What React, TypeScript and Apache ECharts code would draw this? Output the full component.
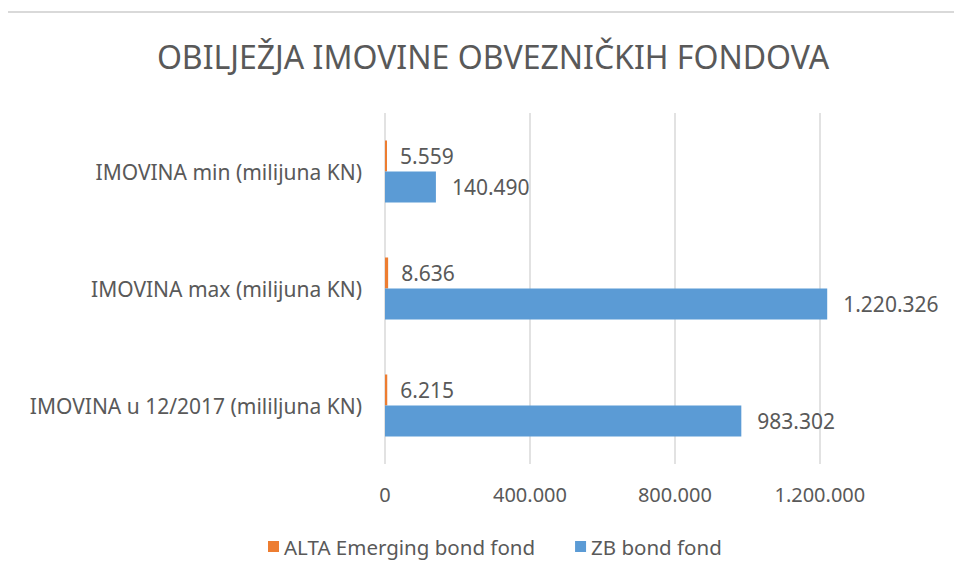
import React, { useEffect, useRef } from "react";
import * as echarts from "echarts";

const categories = [
  "IMOVINA min (milijuna KN)",
  "IMOVINA max (milijuna KN)",
  "IMOVINA u 12/2017 (mililjuna KN)",
];
const altaValues = [5559, 8636, 6215];
const zbValues = [140490, 1220326, 983302];
const seriesNames = ["ALTA Emerging bond fond", "ZB bond fond"];
const titleText = "OBILJEŽJA IMOVINE OBVEZNIČKIH FONDOVA";
const axisMax = 1584000;
const axisInterval = 400000;
const lastLabel = 1200000;

const fmt = (v: number) =>
  String(Math.round(v)).replace(/\B(?=(\d{3})+(?!\d))/g, ".");

const FONT = "Noto Sans";
const GRAY = "#595959";

export default function App() {
  const ref = useRef<HTMLDivElement>(null);
  useEffect(() => {
    if (!ref.current) return;
    const chart = echarts.init(ref.current, null, { renderer: "svg" });
    chart.setOption({
      animation: false,
      backgroundColor: "#ffffff",
      textStyle: { fontFamily: FONT },
      title: {
        text: titleText,
        left: 488,
        top: 35,
        textAlign: "center",
        textStyle: { fontFamily: FONT, fontSize: 32, fontWeight: "normal", color: GRAY },
      },
      graphic: [
        { type: "line", shape: { x1: 5, y1: 12, x2: 962, y2: 12 }, style: { stroke: "#D9D9D9", lineWidth: 2 } },
        { type: "line", shape: { x1: 6, y1: 12, x2: 6, y2: 584 }, style: { stroke: "#D9D9D9", lineWidth: 2 } },
      ],
      legend: {
        top: 536,
        left: 268,
        padding: 0,
        itemWidth: 11,
        itemHeight: 11,
        itemGap: 40,
        icon: "rect",
        textStyle: { fontFamily: FONT, fontSize: 20.5, color: GRAY },
        data: seriesNames,
      },
      grid: { left: 385, right: 0, top: 113, bottom: 120, containLabel: false },
      xAxis: {
        type: "value",
        min: 0,
        max: axisMax,
        interval: axisInterval,
        axisLine: { show: false },
        axisTick: { show: false },
        splitLine: { show: true, lineStyle: { color: "#D9D9D9", width: 1.5 } },
        axisLabel: {
          color: GRAY,
          fontFamily: FONT,
          fontSize: 20,
          margin: 20,
          formatter: (v: number) => (v > lastLabel ? "" : fmt(v)),
        },
      },
      yAxis: {
        type: "category",
        inverse: true,
        data: categories,
        axisLine: { show: false },
        axisTick: { show: false },
        axisLabel: { color: GRAY, fontFamily: FONT, fontSize: 21, margin: 23 },
      },
      series: [
        {
          name: seriesNames[0],
          type: "bar",
          data: altaValues,
          itemStyle: { color: "#ED7D31" },
          barGap: "0%",
          barCategoryGap: "47%",
          label: {
            show: true,
            position: "right",
            distance: 13,
            color: GRAY,
            fontFamily: FONT,
            fontSize: 21,
            formatter: (p: any) => fmt(p.value),
          },
        },
        {
          name: seriesNames[1],
          type: "bar",
          data: zbValues,
          itemStyle: { color: "#5B9BD5" },
          barGap: "0%",
          barCategoryGap: "47%",
          label: {
            show: true,
            position: "right",
            distance: 16,
            color: GRAY,
            fontFamily: FONT,
            fontSize: 21,
            formatter: (p: any) => fmt(p.value),
          },
        },
      ],
    });
    return () => chart.dispose();
  }, []);
  return <div ref={ref} style={{ width: 962, height: 584, marginLeft: -8, marginTop: -8 }} />;
}
